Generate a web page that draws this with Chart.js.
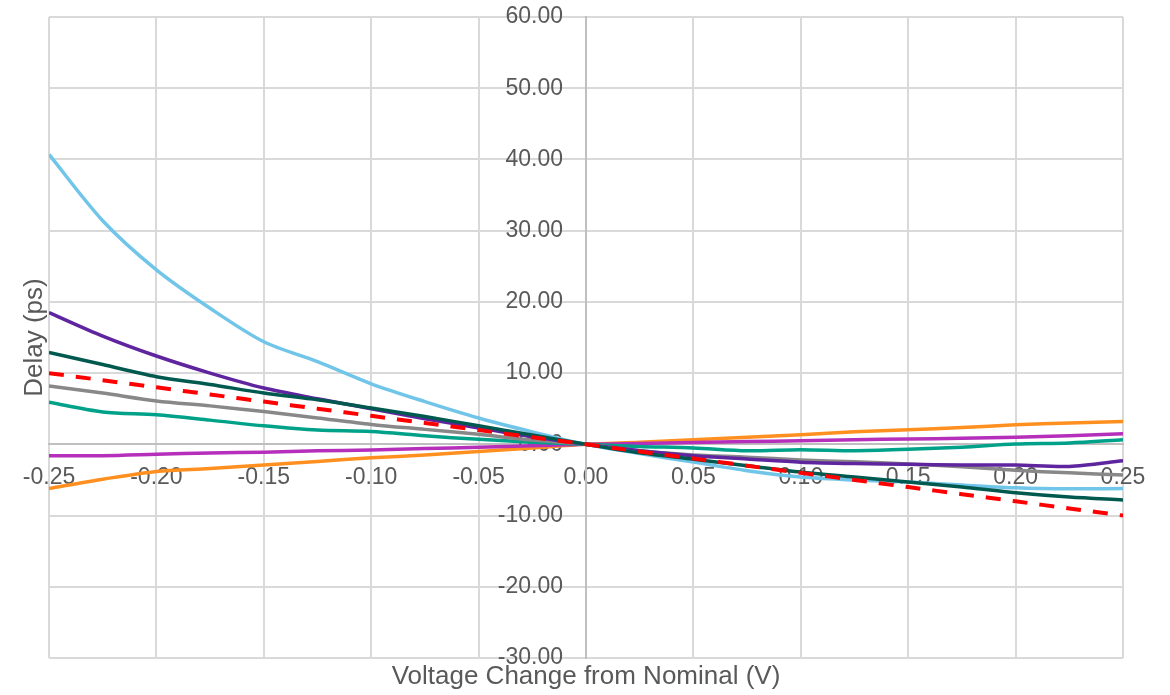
<!DOCTYPE html>
<html lang="en">
<head>
<meta charset="UTF-8">
<title>Delay vs Voltage Change</title>
<script src="https://cdn.jsdelivr.net/npm/chart.js@4.4.1/dist/chart.umd.min.js"></script>
<style>
    html, body { margin: 0; padding: 0; background: #ffffff; }
    #chart-wrap { width: 1170px; height: 695px; position: relative; }
</style>
</head>
<body>
<div id="chart-wrap"><canvas id="delayChart"></canvas></div>
<script>
// Voltage steps (V) shared by every curve
const voltage = [-0.25, -0.225, -0.20, -0.175, -0.15, -0.125, -0.10, -0.075, -0.05, -0.025, 0,
                 0.025, 0.05, 0.075, 0.10, 0.125, 0.15, 0.175, 0.20, 0.225, 0.25];

// Delay (ps) for each curve
const delayLightBlue = [40.7, 31.4, 24.5, 19.1, 14.4, 11.6, 8.5, 6.0, 3.7, 1.75, 0,
                        -1.3, -2.5, -3.7, -4.6, -5.0, -5.3, -5.7, -6.1, -6.25, -6.2];
const delayPurple = [18.5, 15.2, 12.4, 10.0, 7.9, 6.4, 5.0, 3.6, 2.3, 1.05, 0,
                     -0.9, -1.6, -2.05, -2.5, -2.7, -2.8, -2.9, -2.9, -3.1, -2.3];
const delayDarkGreen = [12.9, 11.2, 9.5, 8.4, 7.2, 6.25, 5.1, 3.9, 2.6, 1.3, 0,
                        -1.2, -2.1, -3.0, -3.9, -4.6, -5.3, -6.0, -6.8, -7.4, -7.8];
const delayRef = [10, 9, 8, 7, 6, 5, 4, 3, 2, 1, 0,
                  -1, -2, -3, -4, -5, -6, -7, -8, -9, -10];
const delayGray = [8.2, 7.2, 6.1, 5.4, 4.6, 3.7, 2.8, 2.1, 1.4, 0.6, 0,
                   -0.9, -1.5, -1.8, -2.2, -2.45, -2.75, -3.15, -3.65, -4.0, -4.3];
const delayTeal = [5.9, 4.55, 4.15, 3.4, 2.6, 2.0, 1.8, 1.2, 0.7, 0.3, 0,
                   -0.3, -0.5, -0.9, -0.75, -0.9, -0.7, -0.4, 0.05, 0.2, 0.65];
const delayMagenta = [-1.6, -1.6, -1.4, -1.2, -1.1, -0.9, -0.8, -0.6, -0.4, -0.2, 0,
                      0.1, 0.25, 0.4, 0.5, 0.65, 0.75, 0.85, 1.0, 1.2, 1.5];
const delayOrange = [-6.2, -4.9, -3.8, -3.4, -2.9, -2.4, -1.9, -1.5, -1.0, -0.5, 0,
                     0.3, 0.65, 1.0, 1.35, 1.75, 2.05, 2.35, 2.75, 3.0, 3.2];

// Axis ranges and tick steps
const xRange = [-0.25, 0.25];
const xStep = 0.05;
const yRange = [-30, 60];
const yStep = 10;

const xTitle = 'Voltage Change from Nominal (V)';
const yTitle = 'Delay (ps)';

const FONT = "'Liberation Sans', Arial, sans-serif";
const TEXT_COLOR = '#595959';

const toPoints = (ys) => voltage.map((x, i) => ({ x: x, y: ys[i] }));

function makeSeries(label, ys, color, order, dash) {
    return {
        label: label,
        data: toPoints(ys),
        borderColor: color,
        backgroundColor: color,
        borderWidth: dash ? 4 : 3.5,
        borderDash: dash || [],
        pointRadius: 0,
        tension: 0.3,
        fill: false,
        order: order
    };
}

// Axis titles drawn around the plot area
const axisTitles = {
    id: 'axisTitles',
    afterDraw(chart) {
        const { ctx, chartArea } = chart;
        ctx.save();
        ctx.fillStyle = TEXT_COLOR;
        ctx.font = '26px ' + FONT;
        ctx.textAlign = 'center';
        ctx.textBaseline = 'alphabetic';
        ctx.fillText(xTitle, (chartArea.left + chartArea.right) / 2, 684);
        ctx.translate(42, (chartArea.top + chartArea.bottom) / 2);
        ctx.rotate(-Math.PI / 2);
        ctx.fillText(yTitle, 0, 0);
        ctx.restore();
    }
};

function renderChart() {
    const ctx = document.getElementById('delayChart').getContext('2d');

    new Chart(ctx, {
        type: 'line',
        data: {
            datasets: [
                makeSeries('Reference', delayRef, '#ff0000', 0, [15, 12]),
                makeSeries('Dark green', delayDarkGreen, '#00594f', 1),
                makeSeries('Light blue', delayLightBlue, '#71c5e8', 2),
                makeSeries('Purple', delayPurple, '#5f259f', 3),
                makeSeries('Gray', delayGray, '#888888', 4),
                makeSeries('Teal', delayTeal, '#00a189', 5),
                makeSeries('Magenta', delayMagenta, '#b52fbb', 6),
                makeSeries('Orange', delayOrange, '#ff9020', 7)
            ]
        },
        options: {
            responsive: true,
            maintainAspectRatio: false,
            animation: false,
            layout: { padding: { left: 49, right: 47, top: 17, bottom: 37 } },
            plugins: {
                legend: { display: false },
                tooltip: { enabled: false }
            },
            scales: {
                x: {
                    type: 'linear',
                    position: { y: 0 },
                    min: xRange[0],
                    max: xRange[1],
                    afterFit: (s) => { s.height = 0; s.paddingLeft = 0; s.paddingRight = 0; },
                    ticks: {
                        stepSize: xStep,
                        padding: 20,
                        color: TEXT_COLOR,
                        font: { family: FONT, size: 23 },
                        maxRotation: 0,
                        callback: (v) => Number(v).toFixed(2)
                    },
                    grid: { color: '#d9d9d9', lineWidth: 2, drawTicks: false },
                    border: { display: true, color: '#bfbfbf', width: 2 }
                },
                y: {
                    type: 'linear',
                    position: { x: 0 },
                    min: yRange[0],
                    max: yRange[1],
                    afterFit: (s) => { s.width = 0; s.paddingTop = 0; s.paddingBottom = 0; },
                    ticks: {
                        stepSize: yStep,
                        color: TEXT_COLOR,
                        font: { family: FONT, size: 23 },
                        // labels sit right-aligned on the axis line, en spaces keep them off it
                        callback: (v) => Number(v).toFixed(2) + '\u2002\u2002'
                    },
                    grid: { color: '#d9d9d9', lineWidth: 2, drawTicks: false },
                    border: { display: true, color: '#bfbfbf', width: 2 }
                }
            }
        },
        plugins: [axisTitles]
    });
}

document.addEventListener('DOMContentLoaded', () => {
    renderChart();
});
</script>
</body>
</html>
